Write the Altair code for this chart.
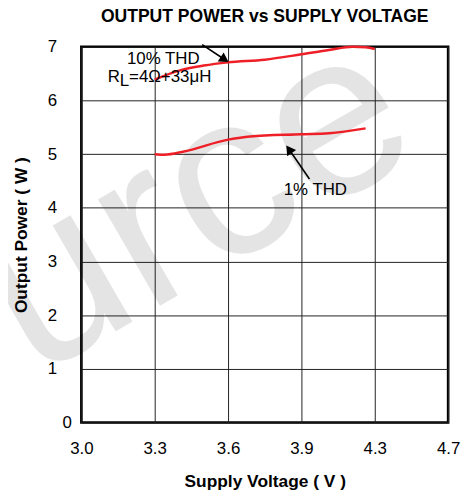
import altair as alt
import pandas as pd

# axis ticks
volt_ticks = [3.0, 3.3, 3.6, 3.9, 4.3, 4.7]
power_ticks = [0, 1, 2, 3, 4, 5, 6, 7]

# 10% THD curve
v10 = [3.30, 3.41, 3.50, 3.60, 3.75, 3.90, 4.05, 4.18, 4.25, 4.30]
p10 = [6.39, 6.57, 6.65, 6.71, 6.76, 6.86, 6.94, 7.00, 6.99, 6.96]
# 1% THD curve
v1 = [3.30, 3.34, 3.42, 3.60, 3.69, 3.90, 4.05, 4.25]
p1 = [5.00, 4.99, 5.05, 5.27, 5.33, 5.37, 5.39, 5.48]

# annotation arrows (tail -> head), head angle
arr_v = [3.494, 3.944]
arr_p = [7.04, 4.538]
head_v = [3.586, 3.849]
head_p = [6.763, 5.091]
head_ang = [123, 325]

# watermark anchor
wm_text = ["Source"]
wm_v = [4.581]
wm_p = [5.04]

lines = pd.DataFrame({
    "v": v10 + v1,
    "p": p10 + p1,
    "s": ["10%"] * len(v10) + ["1%"] * len(v1),
})
arrows = pd.DataFrame({"v": arr_v, "p": arr_p, "v2": head_v, "p2": head_p, "a": head_ang})
wm = pd.DataFrame({"v": wm_v, "p": wm_p, "t": wm_text})

FONT = "Liberation Sans"
xs = alt.Scale(domain=volt_ticks, range=[0, 74, 148, 222, 296, 370], nice=False, zero=False)
ys = alt.Scale(domain=[0, 7], nice=False, zero=True)

X = alt.X("v:Q", scale=xs, title="Supply Voltage ( V )",
          axis=alt.Axis(values=volt_ticks, format=".1f", labelPadding=18, labelFlush=False,
                        titleBaseline="alphabetic", titleY=65))
Y = alt.Y("p:Q", scale=ys, title="Output Power ( W )",
          axis=alt.Axis(values=power_ticks, format="d", labelFlush=False,
                        labelPadding={"condition": {"test": "datum.value === 0", "value": 10}, "value": 25},
                        titleBaseline="alphabetic", titleX=-55))

wm_layer = alt.Chart(wm).mark_text(
    font=FONT, fontSize=235, color="black", opacity=0.1, align="right",
    baseline="alphabetic", angle=330
).encode(x=alt.X("v:Q", scale=xs), y=alt.Y("p:Q", scale=ys), text="t:N")

line_layer = alt.Chart(lines).mark_line(color="#ee1f26", strokeWidth=2.5, interpolate="monotone").encode(
    x=X, y=Y, detail="s:N")

rule_layer = alt.Chart(arrows).mark_rule(color="black", strokeWidth=1.6).encode(
    x=alt.X("v:Q", scale=xs), y=alt.Y("p:Q", scale=ys), x2="v2:Q", y2="p2:Q")

head_layer = alt.Chart(arrows).mark_point(shape="triangle-up", filled=True, color="black",
                                          opacity=1, size=120).encode(
    x=alt.X("v2:Q", scale=xs), y=alt.Y("p2:Q", scale=ys), angle=alt.Angle("a:Q", scale=None))

def label(txt, v, p, align="center", dx=0, dy=0):
    return alt.Chart(pd.DataFrame({"v": [v], "p": [p], "t": [txt]})).mark_text(
        font=FONT, fontSize=17, color="black", align=align, baseline="middle", dx=dx, dy=dy
    ).encode(x=alt.X("v:Q", scale=xs), y=alt.Y("p:Q", scale=ys), text="t:N")

texts = [
    label("10% THD", 3.335, 6.765),
    label("R", 3.108, 6.43, align="left"),
    label("L", 3.108, 6.43, align="left", dx=12, dy=4),
    label("=4Ω+33μH", 3.108, 6.43, align="left", dx=21.5),
    label("1% THD", 3.976, 4.325),
]

chart = alt.layer(wm_layer, line_layer, rule_layer, head_layer, *texts).properties(
    width=370, height=379,
    autosize="none",
    padding={"left": 74, "top": 37, "right": 14, "bottom": 70},
    title=alt.TitleParams("OUTPUT POWER vs SUPPLY VOLTAGE", font=FONT, fontSize=17.7,
                          fontWeight="bold", color="black", anchor="middle",
                          baseline="alphabetic", offset=-48.9),
).configure_view(stroke="black", strokeWidth=2.6).configure_axis(
    labelFont=FONT, labelFontSize=17, labelColor="black",
    titleFont=FONT, titleFontSize=17.5, titleFontWeight="bold", titleColor="black",
    grid=True, gridColor="#222222", gridWidth=1, gridOpacity=1,
    domain=False, ticks=False,
)

chart.save("out.html", embed_options={"renderer": "svg", "actions": False})
